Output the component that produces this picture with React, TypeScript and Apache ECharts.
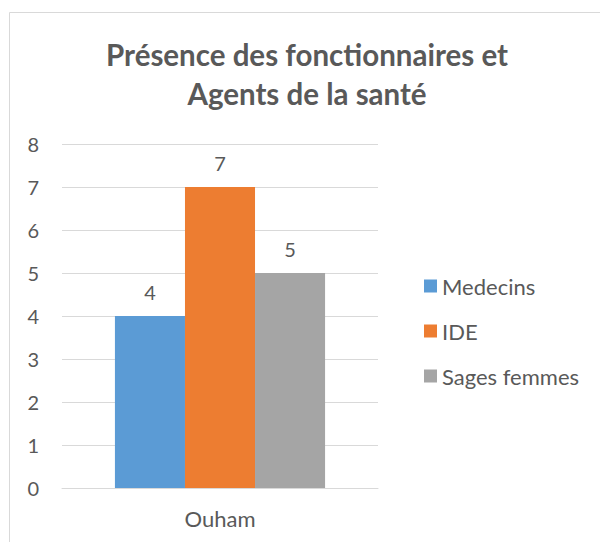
import React, { useEffect, useRef } from "react";
import * as echarts from "echarts";

const categories = ["Ouham"];
const seriesNames = ["Medecins", "IDE", "Sages femmes"];
const medecins = [4];
const ide = [7];
const sagesFemmes = [5];
const colors = ["#5B9BD5", "#ED7D31", "#A5A5A5"];
const titleLines = ["Présence des fonctionnaires et", "Agents de la santé"];

const FONT = "Lato, 'Noto Sans', sans-serif";
const TXT = "#595959";

export default function App() {
  const ref = useRef<HTMLDivElement>(null);
  useEffect(() => {
    if (!ref.current) return;
    const chart = echarts.init(ref.current, null, { renderer: "svg" });
    const values = [medecins, ide, sagesFemmes];
    chart.setOption({
      animation: false,
      textStyle: { fontFamily: FONT },
      graphic: [
        {
          type: "rect",
          shape: { x: 9.5, y: 12.5, width: 800, height: 800 },
          style: { fill: "none", stroke: "#D9D9D9", lineWidth: 1 },
          silent: true,
        },
        {
          type: "text",
          x: 307,
          y: 54,
          style: {
            text: titleLines[0],
            fill: TXT,
            font: `bold 29.5px ${FONT}`,
            textAlign: "center",
            textVerticalAlign: "middle",
          },
        },
        {
          type: "text",
          x: 307,
          y: 93,
          style: {
            text: titleLines[1],
            fill: TXT,
            font: `bold 29.5px ${FONT}`,
            textAlign: "center",
            textVerticalAlign: "middle",
          },
        },
      ],
      legend: {
        orient: "vertical",
        left: 419,
        top: 270,
        itemWidth: 13,
        itemHeight: 13,
        itemGap: 23,
        icon: "rect",
        data: seriesNames,
        textStyle: { color: TXT, fontSize: 22, fontFamily: FONT },
      },
      grid: { left: 62, right: 222, top: 144, bottom: 54, containLabel: false },
      xAxis: {
        type: "category",
        data: categories,
        axisLine: { lineStyle: { color: "#D9D9D9", width: 1 } },
        axisTick: { show: false },
        axisLabel: { color: TXT, fontSize: 22, margin: 19, fontFamily: FONT },
      },
      yAxis: {
        type: "value",
        min: 0,
        max: 8,
        interval: 1,
        axisLine: { show: false },
        axisTick: { show: false },
        splitLine: { lineStyle: { color: "#D9D9D9", width: 1 } },
        axisLabel: { color: TXT, fontSize: 20, margin: 23, fontFamily: FONT },
      },
      series: seriesNames.map((name, i) => ({
        name,
        type: "bar",
        data: values[i],
        barGap: "0%",
        barCategoryGap: "33.5%",
        itemStyle: { color: colors[i] },
        label: {
          show: true,
          position: "top",
          distance: 14,
          color: TXT,
          fontSize: 20,
          fontFamily: FONT,
        },
      })),
    });
    return () => chart.dispose();
  }, []);
  return (
    <div
      ref={ref}
      style={{ position: "absolute", left: 0, top: 0, width: 600, height: 542 }}
    />
  );
}
